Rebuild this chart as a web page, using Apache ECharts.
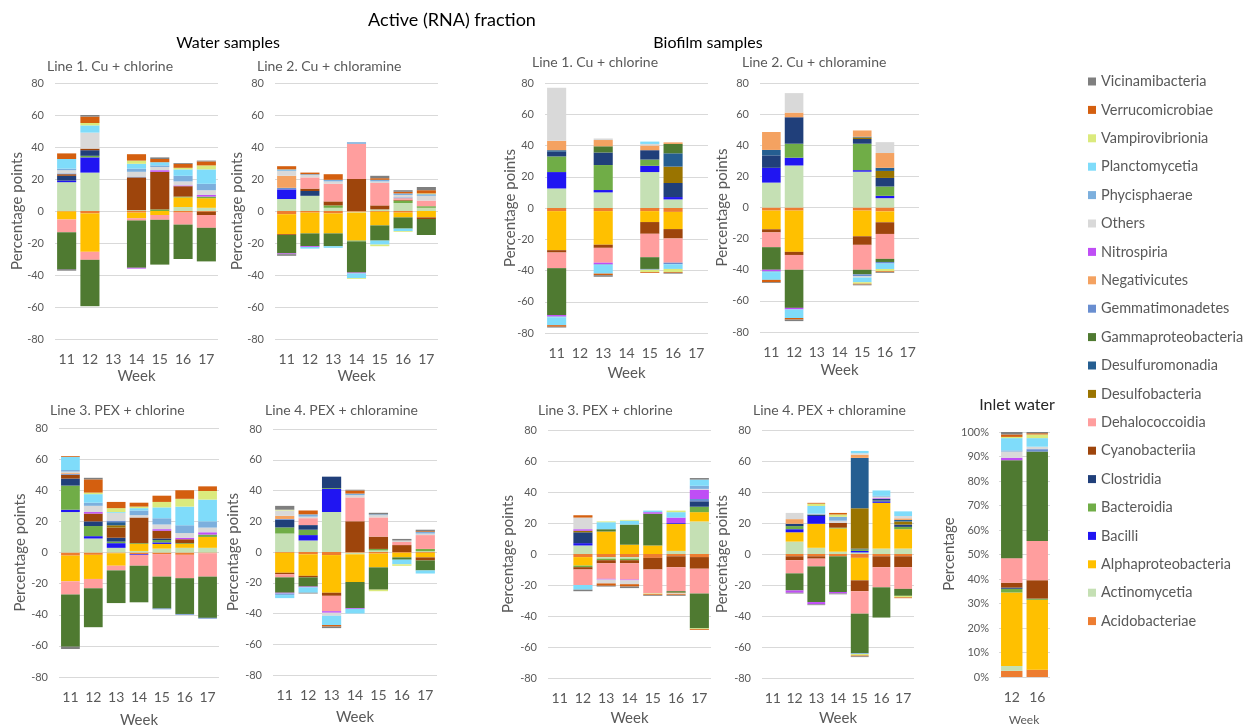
<!DOCTYPE html>
<html>
<head>
<meta charset="utf-8">
<script src="https://cdn.jsdelivr.net/npm/echarts@6/dist/echarts.min.js"></script>
<style>
  html, body { margin: 0; padding: 0; background: #fff; }
  #chart { width: 1246px; height: 727px; }
</style>
</head>
<body>
<div id="chart"></div>
<script>
// 週次
const weeks = ["11", "12", "13", "14", "15", "16", "17"];
const inletWeeks = ["12", "16"];

// 分類群（堆疊順序，由 0 往外）
const taxa = [
  "Acidobacteriae", "Actinomycetia", "Alphaproteobacteria", "Bacilli", "Bacteroidia",
  "Clostridia", "Cyanobacteriia", "Dehalococcoidia", "Desulfobacteria", "Desulfuromonadia",
  "Gammaproteobacteria", "Gemmatimonadetes", "Negativicutes", "Nitrospiria", "Others",
  "Phycisphaerae", "Planctomycetia", "Vampirovibrionia", "Verrucomicrobiae", "Vicinamibacteria",
];

const colors = [
  "#ED7D31", "#C5E0B4", "#FFC000", "#2015F2", "#70AD47",
  "#203F7A", "#9E450C", "#FF9E9E", "#9A7400", "#255E91",
  "#4F7A31", "#698ED0", "#F4A261", "#BF4EF5", "#D9D9D9",
  "#7CAFDD", "#7FDCFA", "#DBEA7D", "#D45F0F", "#7F7F7F",
];

// 每列一個分類群（依 taxa 順序），每欄一週（11..17），單位：百分點
const waterL1 = [
  [-0.3, -1.5, 0, -1, 0, -1, -0.5],
  [18, 24, 0, 0.5, 0, 2.5, 2],
  [-5, -24, 0, -3.5, -2.5, 6, 6],
  [1, 9.5, 0, 0, 0, 0, 0],
  [0, 1, 0, 0, 1, 0.5, 1],
  [3, 3.5, 0, 0, 0, 0, 0],
  [1, 1, 0, 20.5, 23.5, 6.5, -2],
  [-8, -5, 0, -1.5, -3, -7.5, -8],
  [0, 0, 0, 0, 0, 0, 0],
  [0, 0, 0, 0, 0, 0, 0],
  [-23, -29, 0, -29.5, -28, -21.5, -21],
  [0.5, 0, 0, 0.5, 0, 0, 0],
  [0, 0, 0, 0, 0, 0, 0],
  [0, 0, 0, -0.5, 1, 0.5, 1],
  [2, 10, 0, 3, 2, 2.5, 3],
  [1, 0, 0, 2, 1, 3.5, 4],
  [6, 4.5, 0, 3, 2, 4, 9],
  [0, 1.5, 0, 2, 0, 1, 2.5],
  [3.5, 4, 0, 4, 2, 2.5, 2.5],
  [-1, 1, 0, 0, 1, 0.5, 0.5],
];

const waterL2 = [
  [-2, -1, -1.5, -0.5, -0.5, -1, 0],
  [7.5, 9.5, 2, -0.5, 1, 5, 2],
  [-12.5, -13, -12.5, -17.5, -8.5, -3, -4],
  [6, 0, 0, 0, 0, 0, 0],
  [0, 0, 1.5, -0.5, 0, 1.5, 1],
  [0, 3, 0, 0, 0, 0, 0],
  [-0.5, 1.5, 2.5, 20, 2.5, 0.5, -1],
  [0, 7, 11, 22, 14, 1, 3.5],
  [0, 0, 0, 0, 0, 0, 0],
  [0, 0, 0, 0, 0, 0, 0],
  [-11.5, -8, -8, -19.5, -9.5, -7, -10],
  [1, 0, 0, 0, 0, 0.5, 0],
  [7.5, 0, 0, 0, 0, 0, 0],
  [-0.5, -0.5, 0, -0.5, 0, 0, 0],
  [3, 1.5, 1.5, 0, 1, 1.5, 3],
  [0.5, 0.5, 1, 1, 1, 1, 1],
  [0.5, -1, -1, -3, -2.5, -1.5, 0],
  [0, 0, 0, -0.5, -1, -0.5, 0.5],
  [2, 1, 3.5, 0, 1, 1, 2],
  [-1, 0, 0, 0, 1.5, 1, 2],
];

const bioL1 = [
  [-2, 0, -2, 0, -2, -2.5, 0],
  [12.5, 0, 10, 0, 23, 5.5, 0],
  [-25, 0, -21.5, 0, -7, -11, 0],
  [10.5, 0, 1.5, 0, 4, 1.5, 0],
  [10, 0, 16, 0, 4, 0, 0],
  [3, 0, 8, 0, 6, 9, 0],
  [-1.5, 0, -2, 0, -7.5, -6, 0],
  [-10, 0, -9.5, 0, -15, -15.5, 0],
  [0, 0, 0, 0, 0, 10.5, 0],
  [1, 0, 0, 0, 0, 8.5, 0],
  [-30, 0, 4, 0, -7.5, 6, 0],
  [0, 0, 0, 0, -0.5, -1, 0],
  [6, 0, 4, 0, 3, 1, 0],
  [-1, 0, -1, 0, 0, 0, 0],
  [34, 0, 1, 0, 1, 0, 0],
  [-0.5, 0, -0.5, 0, 0, 0, 0],
  [-5, 0, -5.5, 0, 1.5, -3, 0],
  [0, 0, 0, 0, -1.5, -2, 0],
  [-1, 0, -1, 0, -0.5, -0.5, 0],
  [-0.5, 0, -1, 0, 0, -0.5, 0],
];

const bioL2 = [
  [-2, -2, 0, 0, -2, -2.5, 0],
  [16, 27, 0, 0, 23, 6, 0],
  [-12, -26.5, 0, 0, -16.5, -7, 0],
  [9.5, 5, 0, 0, 1, 1.5, 0],
  [0, 9, 0, 0, 17, 6, 0],
  [8, 17, 0, 0, 3, 5.5, 0],
  [-2, -2, 0, 0, -5.5, -7.5, 0],
  [-9.5, -9.5, 0, 0, -16, -16, 0],
  [0, 0, 0, 0, 1, 4.5, 0],
  [3.5, 0, 0, 0, 0.5, 2, 0],
  [-14.5, -24.5, 0, 0, -3, -2, 0],
  [0, 0, 0, 0, -1, -1, 0],
  [11.5, 3, 0, 0, 4, 9.5, 0],
  [-1, -1, 0, 0, 0, 0, 0],
  [0, 12.5, 0, 0, -1, 7, 0],
  [-0.5, 0, 0, 0, 0, 0, 0],
  [-5, -5.5, 0, 0, -3, -3.5, 0],
  [0, 0, 0, 0, -1, -1.5, 0],
  [-1.5, -1, 0, 0, -0.5, -0.5, 0],
  [-0.5, -1, 0, 0, -0.5, -0.5, 0],
];

const waterL3 = [
  [-2, -1.5, -0.5, -1, -1, -1.5, -0.5],
  [26, 9, 3, 1, 2.5, 3, 3],
  [-16.5, -15.5, -8, 4.5, 3, 2.5, 7],
  [1.5, 1.5, 3, -0.5, 1, 0, 0],
  [15.5, 6.5, 1, 0.5, 1.5, 0.5, 1.5],
  [4.5, 3, 2.5, 0, 1, 0, 0],
  [2.5, 5, 6.5, 16.5, 5, 2.5, 0],
  [-8.5, -6, -3, -7, -14.5, -15, -15],
  [0, 0, 1.5, 0, 0, 0, 0],
  [0, 0, 2, 0, 0, 0, 0],
  [-33.5, -25, -21, -23.5, -20.5, -23, -26.5],
  [0.5, 0, 1, 0, -0.5, -0.5, -0.5],
  [0.5, 0, 0, 0, 0, 0, 0],
  [0, 1, 0, 0, 1, 1, 1.5],
  [1, 4, 5, 1.5, 3, 3, 3],
  [1, 2, 0, 3, 4, 5, 4],
  [8.5, 5.5, 0.5, 1.5, 7, 12, 14],
  [0, 1, 2.5, 1, 3.5, 5, 5.5],
  [0.5, 8.5, 4, 2.5, 4, 5.5, 3],
  [-1.5, 1, 0, 0, 0, 0, 0],
];

const waterL4 = [
  [-0.5, -1.5, -2, -0.5, -1, -0.5, -0.5],
  [12, 7.5, 26, -1, 1, 0, 0.5],
  [-13, -14, -24.5, -18, -9, -3, -3],
  [0, 3.5, 15, 0, 0, 0, 0],
  [4, 3.5, 0.5, 0, 1, 0, 1.5],
  [5, 3, 7.5, 0, 0, 0, 0],
  [-1, -1, -2, 20, 8, 4.5, -2],
  [-2, 4.5, -10, 15.5, 12.5, 2, 9],
  [0, 0, 0, 0, 0, 0, 0],
  [0, 0, 0, 0, 0, 0, 0],
  [-10, -6, 0, -17, -14.5, -1.5, -6.5],
  [0.5, 0, 0, 0, 0, 0, 0],
  [2, 0, 0, 0, 0, 0, 0],
  [-0.5, -0.5, -1, -0.5, 0, 0, 0],
  [3.5, 1, -2, 1.5, 1.5, 1, 1],
  [-1, 1.5, 0, 1, 0.5, 0, 1],
  [-2, -3.5, -6, -3, 0, -3, -2],
  [0.5, 0, 0, 0, -1, -1, 0],
  [0, 2.5, -1, 2, 0, 0, 0.5],
  [2.5, -0.5, -1, 0.5, 1, 1, 1],
];

const bioL3 = [
  [0, -2, -2, -2, -2.5, -1.5, -2],
  [0, 5.5, -1, -1, 0, 2, 21],
  [0, -5.5, 14.5, 6, 5.5, 17.5, 6],
  [0, 1.5, 0, 0, 0, 0.5, 0],
  [0, -1, -1, -1, 0, 0, 3.5],
  [0, 7, 0, 0, 0, 0, 3.5],
  [0, -1.5, -2, -2, -7.5, -7, -7.5],
  [0, -10, -10, -10.5, -15.5, -15.5, -16],
  [0, 1, 0, 0, 0, 0, 0],
  [0, 0, 0, 0, 0, 0, 0],
  [0, 0, 1.5, 13, 20.5, -1, -22.5],
  [0, 0, 0, 0, 0, 0, 1.5],
  [0, 0, 0, 0, 0, -0.5, 0],
  [0, 1, -0.5, -0.5, 1, 3.5, 6],
  [0, 7.5, -2.5, -2.5, 0, -0.5, 0.5],
  [0, 0, 0, 0, 0, 0, 2],
  [0, -3, 4.5, 2.5, 1, 3.5, 4],
  [0, 0, 0.5, 0.5, -0.5, 1, -0.5],
  [0, 1.5, -1.5, -1.5, -0.5, -0.5, -0.5],
  [0, -1, -0.5, -1, -0.5, -0.5, 1],
];

const bioL4 = [
  [0, -1.5, -1.5, -1.5, -2.5, -1.5, -1.5],
  [0, 8, 4, 1.5, 1, 3.5, 3.5],
  [0, 6, 15.5, 15, -14.5, 29.5, 12.5],
  [0, 2, 5, 0, 1, 1, 0],
  [0, 2, 0, 0.5, 1, 0.5, 1.5],
  [0, 1.5, 1, 0, 0.5, 1, 1.5],
  [0, -2.5, -1.5, 3, -7, -7, -7],
  [0, -8.5, -5, 0, -14.5, -13, -14],
  [0, 0, 0, 0, 26, 0, 2],
  [0, 0, 0, 0, 32.5, 0, 1],
  [0, -11, -23, -23, -25.5, -19.5, -4.5],
  [0, 0, 0, 0, 0, 0, 0],
  [0, 3, 0, 0, 2, 0, 1],
  [0, -1.5, -1.5, -1, 0, 0.5, 0],
  [0, 4, 0.5, 1.5, 1, 1, 1.5],
  [0, 0, 0, 2.5, -0.5, 0.5, 0],
  [0, 0, 5, 0, 1.5, 3.5, 3],
  [0, 0, 1.5, 1.5, -1, 0, -1],
  [0, 0, 0.5, 1, -0.5, 0, -0.5],
  [0, -0.5, -0.5, -0.5, -0.5, 0, 0],
];

// 進水（週 12、16），百分比
const inlet = [
  [2.5, 3], [2, 0], [30, 28.5], [0, 0], [1.5, 0.5],
  [0.5, 0], [2, 7.5], [10, 16], [0, 0], [0, 0],
  [40, 36.5], [0, 1], [0, 0], [1, 0], [2.5, 1],
  [0.5, 0], [5, 3.5], [0.5, 1.5], [1, 0.5], [1, 0.5],
];

const FONT = "Lato, 'Open Sans', sans-serif";
const GREY = "#595959";

// 版面配置
const panels = [
  { data: waterL1, title: "Line 1. Cu + chlorine", tx: 47, ty: 66, grid: [55, 83, 163, 256], yName: 17, weekY: 376 },
  { data: waterL2, title: "Line 2. Cu + chloramine", tx: 257, ty: 66, grid: [275, 83, 163, 256], yName: 237, weekY: 376 },
  { data: bioL1, title: "Line 1. Cu + chlorine", tx: 532, ty: 62, grid: [545, 83, 163, 250], yName: 510, weekY: 373 },
  { data: bioL2, title: "Line 2. Cu + chloramine", tx: 742, ty: 62, grid: [760, 83, 159, 249], yName: 722, weekY: 370 },
  { data: waterL3, title: "Line 3. PEX + chlorine", tx: 50, ty: 410, grid: [59, 428, 160, 249], yName: 20, weekY: 720 },
  { data: waterL4, title: "Line 4. PEX + chloramine", tx: 265, ty: 410, grid: [273, 429, 164, 246], yName: 233, weekY: 717 },
  { data: bioL3, title: "Line 3. PEX + chlorine", tx: 538, ty: 410, grid: [548, 430, 163, 248], yName: 508, weekY: 718 },
  { data: bioL4, title: "Line 4. PEX + chloramine", tx: 753, ty: 410, grid: [762, 430, 152, 248], yName: 722, weekY: 718 },
];

const text = (str, x, y, size, opts = {}) => ({
  type: "text",
  x, y,
  rotation: opts.rotation || 0,
  silent: true,
  style: {
    text: str,
    fill: opts.color || GREY,
    font: `${size}px ${FONT}`,
    align: opts.align || "left",
    verticalAlign: "middle",
  },
});

const grids = [];
const xAxes = [];
const yAxes = [];
const series = [];
const graphics = [
  text("Active (RNA) fraction", 452, 20, 18, { align: "center", color: "#000" }),
  text("Water samples", 228, 43, 16, { align: "center", color: "#000" }),
  text("Biofilm samples", 708, 43, 16, { align: "center", color: "#000" }),
];

panels.forEach((p, i) => {
  const [left, top, width, height] = p.grid;
  grids.push({ left, top, width, height });
  xAxes.push({
    type: "category",
    gridIndex: i,
    data: weeks,
    axisLine: { show: false },
    axisTick: { show: false },
    axisLabel: { interval: 0, fontSize: 14, color: GREY, fontFamily: FONT, margin: 13 },
  });
  yAxes.push({
    type: "value",
    gridIndex: i,
    min: -80,
    max: 80,
    interval: 20,
    axisLine: { show: false },
    axisTick: { show: false },
    axisLabel: { fontSize: 11, color: GREY, fontFamily: FONT, margin: 11 },
    splitLine: { lineStyle: { color: "#d9d9d9", width: 1 } },
  });
  taxa.forEach((name, k) => {
    series.push({
      name,
      type: "bar",
      xAxisIndex: i,
      yAxisIndex: i,
      stack: "p" + i,
      barCategoryGap: "18%",
      data: p.data[k],
      itemStyle: { color: colors[k] },
    });
  });
  graphics.push(text(p.title, p.tx, p.ty, 14));
  graphics.push(text("Percentage points", p.yName, top + height / 2, 15, { align: "center", rotation: Math.PI / 2 }));
  graphics.push(text("Week", left + width / 2, p.weekY, 15, { align: "center" }));
});

// 進水圖
const iw = panels.length;
grids.push({ left: 999, top: 432, width: 51, height: 245 });
xAxes.push({
  type: "category",
  gridIndex: iw,
  data: inletWeeks,
  axisLine: { show: false },
  axisTick: { show: false },
  axisLabel: { interval: 0, fontSize: 14, color: GREY, fontFamily: FONT, margin: 13 },
});
yAxes.push({
  type: "value",
  gridIndex: iw,
  min: 0,
  max: 100,
  interval: 10,
  axisLine: { show: false },
  axisTick: { show: false },
  axisLabel: { fontSize: 11, color: GREY, fontFamily: FONT, margin: 10, formatter: "{value}%" },
  splitLine: { lineStyle: { color: "#d9d9d9", width: 1 } },
});
taxa.forEach((name, k) => {
  series.push({
    name,
    type: "bar",
    xAxisIndex: iw,
    yAxisIndex: iw,
    stack: "inlet",
    barCategoryGap: "16%",
    data: inlet[k],
    itemStyle: { color: colors[k] },
  });
});
graphics.push(text("Inlet water", 1017, 405, 16, { align: "center", color: "#262626" }));
graphics.push(text("Percentage", 949, 554, 15, { align: "center", rotation: Math.PI / 2 }));
graphics.push(text("Week", 1024, 720, 12, { align: "center" }));

const chart = echarts.init(document.getElementById("chart"));
chart.setOption({
  animation: false,
  backgroundColor: "#fff",
  legend: {
    orient: "vertical",
    left: 1083,
    top: 69,
    itemWidth: 8,
    itemHeight: 8,
    itemGap: 13.4,
    icon: "rect",
    selectedMode: false,
    data: taxa.slice().reverse(),
    textStyle: { fontSize: 14.5, color: GREY, fontFamily: FONT, lineHeight: 15 },
  },
  grid: grids,
  xAxis: xAxes,
  yAxis: yAxes,
  series,
  graphic: graphics,
});
</script>
</body>
</html>
